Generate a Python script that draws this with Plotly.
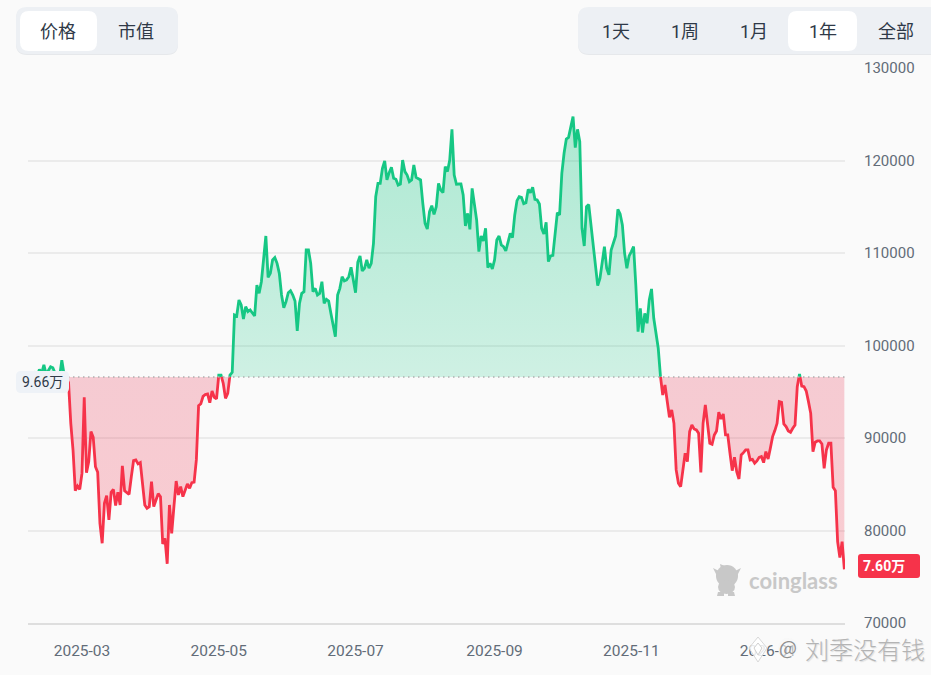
import numpy as np
import pandas as pd
import plotly.graph_objects as go

# daily close, starting 2025-02-05
prices = [
    96800, 96600, 96500, 97000, 96700, 97400, 97000, 97900, 96900, 97300,
    97700, 97600, 97000, 96400, 96600, 98400, 96900, 96500, 96000,
    91590, 88700, 84300, 84800, 84450,
    86200, 94400, 86260, 87450, 90700, 90080, 86900, 86300, 80780, 78620,
    82940, 83770, 81140, 84130, 84450, 82690, 84130, 82760, 86980, 84300,
    84130, 83900, 85820, 87550, 87630, 87200, 87340, 85100, 82760, 82400,
    82580, 85280, 82580, 83300, 83980, 83660, 78550, 79160, 76400, 82760,
    79700, 82580, 85350, 83840, 84740, 83660, 84380, 85030, 84560, 85180,
    85230, 87630, 93500, 93700, 94500, 94700, 94760, 93820, 95080, 94400,
    94220, 96800, 96800, 95900, 94290, 94830, 96800, 97100,
    103300, 103190, 104920, 104380, 102870, 104200, 103660, 103840, 103500, 103190,
    106540, 105640, 106900, 109600, 111840, 107370, 107800, 109250, 109500, 108880,
    107800, 105460, 104090, 104740, 105710, 105930, 105460, 104810, 101570, 104560,
    105640, 105820, 110330, 110330, 108880, 105820, 106180, 105460, 105640, 106900,
    104560, 104990, 104810, 103480, 102040, 100960, 105460, 106180, 107440, 106980,
    107090, 107440, 108450, 107090, 105710, 108990, 109680, 108060, 108350, 109250,
    108350, 108880, 111050, 116090, 117530, 117530, 119150, 119950, 117900, 118690,
    119260, 118070, 117970, 117350, 117460, 120050, 118800, 118430, 117710, 117900,
    119520, 118180, 118050, 117900, 115370, 113210, 112600, 114470, 115120, 114180,
    115010, 117530, 116810, 116520, 119330, 118800, 120050, 123370, 118430, 117430,
    117460, 117460, 116270, 112920, 114290, 112560, 116990, 115370, 113570, 110150,
    111840, 111300, 112670, 108420, 108890, 108270, 109250, 111410, 111840, 110870,
    110690, 110220, 111230, 112130, 111660, 114110, 115660, 116090, 116020, 115340,
    115440, 116880, 116520, 117100, 115800, 115730, 115300, 112670, 112060, 113320,
    109070, 109680, 109750, 112490, 114360, 114110, 118610, 120780, 122320, 122500,
    123660, 124740, 121390, 123370, 122040, 112670, 110760, 115010, 115230, 113030,
    110690, 108520, 106470, 107260, 108890, 110690, 108350, 107630, 110330, 111230,
    111840, 114720, 114220, 113030, 109970, 108350, 109680, 110150, 110690, 106540,
    101500, 104020, 101390, 103480, 102400, 104920, 106110, 102940, 101500, 99700,
    96630, 94650, 95730, 93930, 92240, 93030, 91590, 86550, 85100, 84740,
    86550, 88350, 87450, 90690, 91410, 90980, 90870, 90510, 86290, 91590,
    93570, 91590, 89430, 89320, 90330, 90760, 92780, 92060, 92600, 90330,
    90330, 88350, 86470, 87910, 86360, 85570, 88170, 88420, 88710, 88710,
    87630, 87700, 87270, 87520, 87910, 87990, 87340, 88530, 87730, 88890,
    90150, 90800, 91590, 93930, 93860, 91520, 91230, 90760, 90620, 91050,
    91410, 95550, 96920, 95620, 95550, 95080, 93930, 92670, 88530, 89540,
    89680, 89680, 89360, 86730, 88710, 89430, 89430, 84670, 84310, 78800,
    77070, 78800, 75800,
]
base_price = 96600
start_date = "2025-02-05"

y_ticks = [70000, 80000, 90000, 100000, 110000, 120000, 130000]
x_ticks = ["2025-03-01", "2025-05-01", "2025-07-01", "2025-09-01", "2025-11-01", "2026-01-01"]
x_labels = ["2025-03", "2025-05", "2025-07", "2025-09", "2025-11", "2026-01"]

left_tabs = ["价格", "市值"]
right_tabs = ["1天", "1周", "1月", "1年", "全部"]

W, H = 931, 675
GREEN = "#16c784"
RED = "#f6334a"
FONT = "Roboto, 'Noto Sans CJK SC', sans-serif"


def px(x):
    return x / W


def py(y):
    return 1 - y / H


def rrect(x0, y0, x1, y1, r, fill, line=None):
    # rounded box in page pixels
    xs = [px(v) for v in (x0, x0 + r, x1 - r, x1)]
    ys = [py(v) for v in (y0, y0 + r, y1 - r, y1)]
    path = (
        f"M{xs[1]},{ys[0]} L{xs[2]},{ys[0]} Q{xs[3]},{ys[0]} {xs[3]},{ys[1]} "
        f"L{xs[3]},{ys[2]} Q{xs[3]},{ys[3]} {xs[2]},{ys[3]} "
        f"L{xs[1]},{ys[3]} Q{xs[0]},{ys[3]} {xs[0]},{ys[2]} "
        f"L{xs[0]},{ys[1]} Q{xs[0]},{ys[0]} {xs[1]},{ys[0]} Z"
    )
    return dict(type="path", xref="paper", yref="paper", path=path,
                fillcolor=fill, line=dict(width=1 if line else 0, color=line or fill))


def blob(x0, y0, x1, y1, fill):
    return dict(type="circle", xref="paper", yref="paper",
                x0=px(x0), x1=px(x1), y0=py(y0), y1=py(y1),
                fillcolor=fill, line=dict(width=0))


def poly(points, fill, line=None):
    path = "M" + " L".join(f"{px(a)},{py(b)}" for a, b in points) + " Z"
    return dict(type="path", xref="paper", yref="paper", path=path,
                fillcolor=fill, line=dict(width=1 if line else 0, color=line or fill))


def label(x, y, text, size=18, color="#2f3947", weight="normal", family=FONT, shadow=None):
    font = dict(family=family, size=size, color=color, weight=weight)
    if shadow:
        font["shadow"] = shadow
    return dict(xref="paper", yref="paper", x=px(x), y=py(y), text=text, showarrow=False,
                xanchor="center", yanchor="middle", font=font)


# split the line where it crosses the base price
dates = pd.date_range(start_date, periods=len(prices))
t = dates.astype("int64").to_numpy(dtype=float)
p = np.array(prices, dtype=float)
xs, ys = [t[0]], [p[0]]
for i in range(1, len(p)):
    if (p[i - 1] - base_price) * (p[i] - base_price) < 0:
        f = (base_price - p[i - 1]) / (p[i] - p[i - 1])
        xs.append(t[i - 1] + f * (t[i] - t[i - 1]))
        ys.append(base_price)
    xs.append(t[i])
    ys.append(p[i])
xs = pd.to_datetime(np.array(xs, dtype="int64"), unit=str(dates.dtype)[-3:-1])
ys = np.array(ys)

above = np.where(ys >= base_price, ys, np.nan)
below = np.where(ys <= base_price, ys, np.nan)
base = np.full(len(ys), base_price)

fig = go.Figure()
# red area
fig.add_trace(go.Scatter(x=xs, y=base, mode="lines", line=dict(width=0), hoverinfo="skip", showlegend=False))
fig.add_trace(go.Scatter(
    x=xs, y=np.minimum(ys, base_price), mode="lines", line=dict(width=0), fill="tonexty",
    fillgradient=dict(type="vertical", colorscale=[[0, "rgba(246,51,74,0.23)"], [1, "rgba(232,60,90,0.25)"]]),
    hoverinfo="skip", showlegend=False))
# green area
fig.add_trace(go.Scatter(x=xs, y=base, mode="lines", line=dict(width=0), hoverinfo="skip", showlegend=False))
fig.add_trace(go.Scatter(
    x=xs, y=np.maximum(ys, base_price), mode="lines", line=dict(width=0), fill="tonexty",
    fillgradient=dict(type="vertical", colorscale=[[0, "rgba(22,199,132,0.19)"], [1, "rgba(22,199,132,0.34)"]]),
    hoverinfo="skip", showlegend=False))
fig.add_trace(go.Scatter(x=xs, y=above, mode="lines", line=dict(color=GREEN, width=2.8), showlegend=False))
fig.add_trace(go.Scatter(x=xs, y=below, mode="lines", line=dict(color=RED, width=2.8), showlegend=False))

shapes = [
    # dotted base price
    dict(type="line", xref="paper", yref="y", x0=px(68), x1=px(845), y0=base_price, y1=base_price,
         line=dict(color="#b0b0b0", width=1.5, dash="1.5px,3.5px")),
    # tab bars
    rrect(16, 8, 178, 55, 11, "#e6e8eb"),
    rrect(16, 7, 178, 54, 11, "#edf0f4"),
    rrect(20, 11, 97, 51, 9, "#ffffff"),
    rrect(578, 8, 945, 55, 11, "#e6e8eb"),
    rrect(578, 7, 945, 54, 11, "#edf0f4"),
    rrect(788, 11, 857, 51, 9, "#ffffff"),
    # price tags
    rrect(16, 371, 69, 393, 5, "#eef2f7"),
    rrect(858, 554, 920, 578, 3, RED),
    # coinglass mascot
    blob(716, 565, 738, 587, "#c8c8c8"),
    blob(718, 580, 735, 594, "#c8c8c8"),
    poly([(713, 568), (719, 571), (717, 576)], "#c8c8c8"),
    poly([(741, 568), (735, 571), (737, 576)], "#c8c8c8"),
    poly([(720, 564), (725, 566), (721, 569)], "#c8c8c8"),
    poly([(718, 592), (724, 592), (724, 596), (717, 596)], "#c8c8c8"),
    poly([(728, 592), (734, 592), (735, 596), (728, 596)], "#c8c8c8"),
    # repost watermark icons
    poly([(758, 637), (767, 648), (758, 662), (749, 648)], "rgba(255,255,255,0.85)", "#d8d8d8"),
    poly([(758, 643), (762, 648), (758, 655), (754, 648)], "#ffffff", "#d0d0d0"),
    blob(778, 638, 798, 658, "rgba(245,245,245,0.55)"),
]

annotations = [
    label(58.5, 31, left_tabs[0]),
    label(135.5, 31, left_tabs[1]),
    label(616, 31, right_tabs[0]),
    label(685, 31, right_tabs[1]),
    label(754, 31, right_tabs[2]),
    label(823, 31, right_tabs[3]),
    label(896, 31, right_tabs[4]),
    label(42, 382, "9.66万", size=14),
    label(884, 566, "7.60万", size=14, color="#ffffff", weight="bold"),
    label(793, 580, "coinglass", size=22, color="#c8c8c8", weight="bold",
          family="Lato, 'Open Sans', sans-serif"),
    label(788, 646, "@", size=19, color="#8f8f8f", family="'Noto Sans CJK SC'", shadow="0 0 2px #ffffff"),
    label(865, 648, "刘季没有钱", size=24, color="#b4b4b4", weight=300,
          family="'Noto Sans CJK SC'", shadow="1px 1px 1px #dddddd"),
]

fig.update_layout(
    width=W, height=H,
    margin=dict(l=0, r=0, t=0, b=0),
    paper_bgcolor="#fafafa",
    plot_bgcolor="#fafafa",
    font=dict(family=FONT, color="#626c78", size=15),
    hovermode="x",
    showlegend=False,
    shapes=shapes,
    annotations=annotations,
    xaxis=dict(
        domain=[px(28), px(845)],
        range=["2025-02-04 22:00", "2026-02-04 07:00"],
        tickvals=x_ticks, ticktext=x_labels,
        showgrid=False, zeroline=False, automargin=False,
        showline=True, linecolor="#dedede", linewidth=1.5,
        ticks="", ticklabelstandoff=13,
        tickfont=dict(size=15.5, color="#626c78"),
    ),
    yaxis=dict(
        domain=[py(623), py(68)],
        range=[70000, 130000],
        side="right",
        tickvals=y_ticks,
        tickformat="d", automargin=False,
        gridcolor="#ebebeb", gridwidth=1.5,
        zeroline=False,
        showline=False,
        ticks="", ticklabelstandoff=18,
        tickfont=dict(size=15, color="#626c78"),
    ),
)

# page margin off so the figure sits at the window corner
fig.write_html("out.html", config=dict(displayModeBar=False),
               post_script="document.body.style.margin='0';document.documentElement.style.overflow='hidden';")
